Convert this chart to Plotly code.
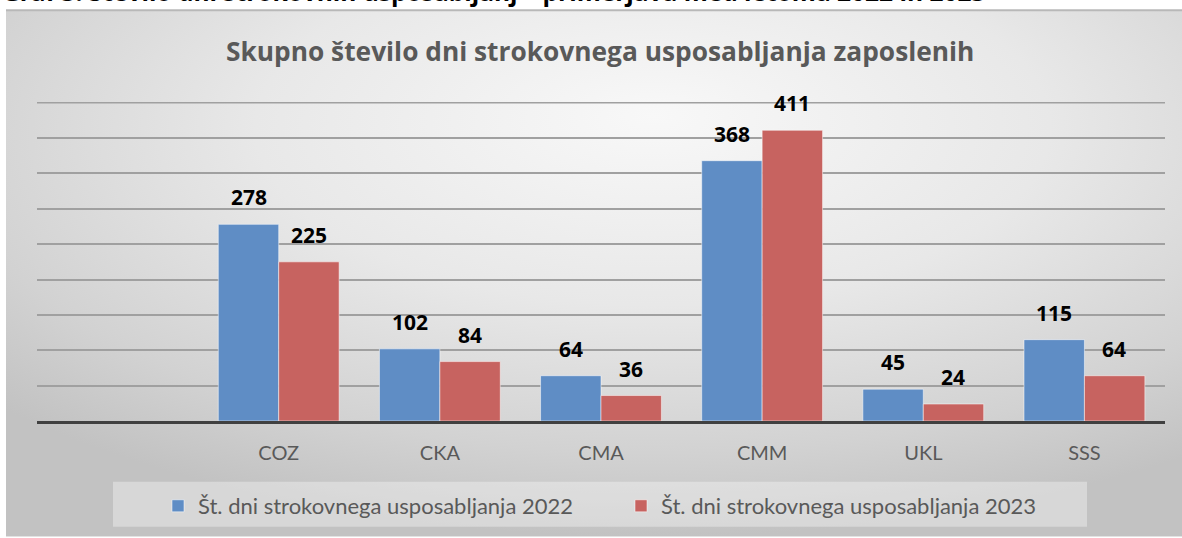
import base64
import plotly.graph_objects as go

categories = ["", "COZ", "CKA", "CMA", "CMM", "UKL", "SSS"]
values_2022 = [None, 278, 102, 64, 368, 45, 115]
values_2023 = [None, 225, 84, 36, 411, 24, 64]
series_names = ["Št. dni strokovnega usposabljanja 2022", "Št. dni strokovnega usposabljanja 2023"]
title_text = "Skupno število dni strokovnega usposabljanja zaposlenih"
heading_text = "Graf 3: Število dni strokovnih usposabljanj – primerjava med letoma 2022 in 2023"
y_max = 450
y_step = 50

W, H = 1182, 538
ML, MR, MT, MB = 37, 17, 102, 116
PW, PH = W - ML - MR, H - MT - MB


def px_x(p):
    return (p - ML) / PW


def px_y(p):
    return (H - MB - p) / PH


FONT = "Lato, Carlito, 'Open Sans', sans-serif"
BOLD_FONT = "'Open Sans', Lato, sans-serif"
GRID = "#a0a0a0"

svg = """<svg xmlns='http://www.w3.org/2000/svg' width='1000' height='500' preserveAspectRatio='none' viewBox='0 0 1000 500'>
<defs><radialGradient id='g' cx='0.55' cy='0.25' r='0.75' fx='0.55' fy='0.2'>
<stop offset='0' stop-color='#f8f8f8'/><stop offset='0.45' stop-color='#e8e8e8'/>
<stop offset='0.8' stop-color='#d2d2d2'/><stop offset='1' stop-color='#c2c2c2'/></radialGradient></defs>
<rect width='1000' height='500' fill='url(#g)'/></svg>"""
bg_uri = "data:image/svg+xml;base64," + base64.b64encode(svg.encode()).decode()

fig = go.Figure()
fig.add_trace(go.Bar(
    x=categories, y=values_2022, name=series_names[0],
    marker=dict(color="#5f8dc5", line=dict(color="rgba(255,255,255,0.5)", width=1)),
))
fig.add_trace(go.Bar(
    x=categories, y=values_2023, name=series_names[1],
    marker=dict(color="#c76360", line=dict(color="rgba(255,255,255,0.5)", width=1)),
))

annotations = []
for vals, shift in ((values_2022, -30), (values_2023, 30)):
    for c, v in zip(categories, vals):
        if v is None:
            continue
        annotations.append(dict(
            x=c, y=v, xref="x", yref="y", text="<b>" + str(v) + "</b>", showarrow=False,
            xshift=shift, yshift=11, yanchor="bottom",
            font=dict(family=BOLD_FONT, size=21, color="#000000"),
        ))

annotations.append(dict(
    x=(600 - ML) / PW, y=px_y(51), xref="paper", yref="paper", text="<b>" + title_text + "</b>",
    showarrow=False, xanchor="center", yanchor="middle",
    font=dict(family=BOLD_FONT, size=26.3, color="#595959"),
))
annotations.append(dict(
    x=px_x(0), y=px_y(10), xref="paper", yref="paper", text="<b>" + heading_text + "</b>",
    showarrow=False, xanchor="left", yanchor="bottom",
    font=dict(family=BOLD_FONT, size=24.5, color="#000000"),
))

fig.update_layout(
    width=W, height=H,
    margin=dict(l=ML, r=MR, t=MT, b=MB),
    paper_bgcolor="#ffffff",
    plot_bgcolor="rgba(0,0,0,0)",
    barmode="group", bargap=0.25, bargroupgap=0.0,
    showlegend=True,
    legend=dict(
        orientation="h", x=px_x(158), y=px_y(506), xanchor="left", yanchor="middle",
        bgcolor="rgba(0,0,0,0)", font=dict(family=FONT, size=22, color="#595959"),
        traceorder="normal", itemclick=False, entrywidth=418, entrywidthmode="pixels",
    ),
    images=[dict(
        source=bg_uri, xref="paper", yref="paper",
        x=px_x(6), y=px_y(10), sizex=(W - 6) / PW, sizey=(H - 10) / PH,
        xanchor="left", yanchor="top", sizing="stretch", layer="below",
    )],
    shapes=[
        dict(type="line", xref="paper", yref="paper", x0=px_x(6), x1=px_x(W), y0=px_y(10), y1=px_y(10),
             line=dict(color="#b8b8b8", width=2), layer="below"),
        dict(type="rect", xref="paper", yref="paper", x0=px_x(113), x1=px_x(1087), y0=px_y(528), y1=px_y(483),
             fillcolor="rgba(255,255,255,0.35)", line=dict(width=0), layer="below"),
        dict(type="line", xref="paper", yref="y", x0=0, x1=1, y0=y_max, y1=y_max,
             line=dict(color=GRID, width=1.5), layer="below"),
    ],
    annotations=annotations,
    xaxis=dict(
        type="category", showgrid=False, showline=True, linecolor="#404040", linewidth=3,
        ticks="outside", ticklen=12, tickcolor="rgba(0,0,0,0)",
        tickfont=dict(family=FONT, size=20, color="#595959"), fixedrange=True,
    ),
    yaxis=dict(
        range=[0, y_max + 1], tick0=0, dtick=y_step, showgrid=True, gridcolor=GRID, gridwidth=1.5,
        showticklabels=False, zeroline=False, showline=False, ticks="", fixedrange=True,
    ),
)

fig.write_html(
    "out.html",
    config={"displayModeBar": False},
    post_script="document.body.style.margin='0';document.body.style.padding='0';document.documentElement.style.overflow='hidden';",
)
